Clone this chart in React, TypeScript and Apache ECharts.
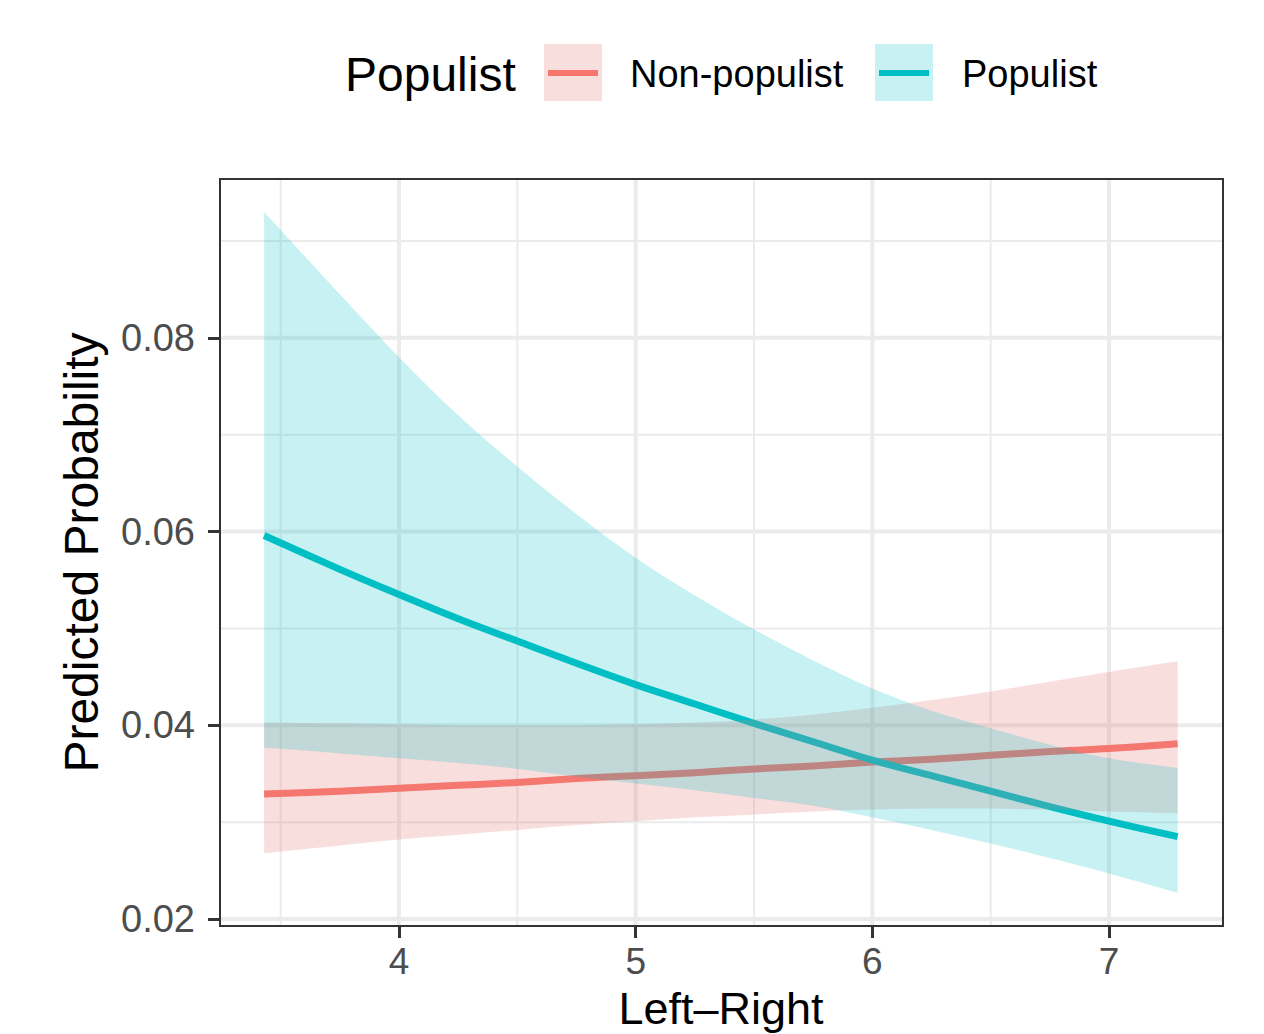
import React, { useEffect, useRef } from "react";
import * as echarts from "echarts";

// x positions (Left–Right scale)
const xs = [3.43, 3.75, 4.0, 4.25, 4.5, 4.75, 5.0, 5.25, 5.5, 5.75, 6.0, 6.25, 6.5, 6.75, 7.0, 7.29];

// Non-populist predicted probability and 95% CI
const npFit = [0.0329, 0.0332, 0.0335, 0.0338, 0.0341, 0.0345, 0.0348, 0.0351, 0.0355, 0.0358, 0.0362, 0.0365, 0.0369, 0.0373, 0.0376, 0.0381];
const npLow = [0.0268, 0.0276, 0.0282, 0.0287, 0.0292, 0.0297, 0.0301, 0.0305, 0.0308, 0.0311, 0.0313, 0.0314, 0.0314, 0.0313, 0.0311, 0.0309];
const npHigh = [0.0403, 0.0402, 0.0401, 0.04, 0.04, 0.04, 0.0401, 0.0403, 0.0406, 0.0411, 0.0418, 0.0426, 0.0435, 0.0445, 0.0455, 0.0466];

// Populist predicted probability and 95% CI
const pFit = [0.0596, 0.0561, 0.0535, 0.051, 0.0487, 0.0464, 0.0442, 0.0422, 0.0402, 0.0383, 0.0364, 0.0348, 0.0332, 0.0316, 0.0301, 0.0285];
const pLow = [0.0377, 0.0371, 0.0366, 0.0361, 0.0355, 0.0347, 0.034, 0.0333, 0.0325, 0.0317, 0.0305, 0.0292, 0.0278, 0.0263, 0.0247, 0.0227];
const pHigh = [0.093, 0.0845, 0.078, 0.072, 0.0667, 0.0618, 0.0573, 0.0534, 0.0499, 0.0467, 0.0438, 0.0415, 0.0397, 0.038, 0.0366, 0.0356];

// axis breaks
const xMajor = [4, 5, 6, 7];
const xMinor = [3.5, 4.5, 5.5, 6.5];
const yMajor = [0.02, 0.04, 0.06, 0.08];
const yMinor = [0.03, 0.05, 0.07, 0.09];

const X_MIN = 3.2436;
const X_MAX = 7.4816;
const Y_MIN = 0.01928;
const Y_MAX = 0.0964;

const FONT = "'Liberation Sans', Arial, Helvetica, sans-serif";
const RED = "#F8766D";
const CYAN = "#00BFC4";
const RED_FILL = "rgba(231,123,123,0.25)";
const CYAN_FILL = "rgba(0,191,196,0.22)";

function gridSeries() {
  const out: any[] = [];
  const mk = (data: number[][], w: number) => ({
    type: "line",
    data,
    showSymbol: false,
    silent: true,
    z: 1,
    lineStyle: { color: "#EBEBEB", width: w },
  });
  xMinor.forEach((v) => out.push(mk([[v, Y_MIN], [v, Y_MAX]], 2)));
  yMinor.forEach((v) => out.push(mk([[X_MIN, v], [X_MAX, v]], 2)));
  xMajor.forEach((v) => out.push(mk([[v, Y_MIN], [v, Y_MAX]], 4)));
  yMajor.forEach((v) => out.push(mk([[X_MIN, v], [X_MAX, v]], 4)));
  return out;
}

// Catmull-Rom spline through pixel points, as cubic bezier segments (no leading M)
function curveSegs(p: number[][]): string {
  let d = "";
  const n = p.length;
  for (let i = 0; i < n - 1; i++) {
    const p0 = p[Math.max(i - 1, 0)];
    const p1 = p[i];
    const p2 = p[i + 1];
    const p3 = p[Math.min(i + 2, n - 1)];
    const c1x = p1[0] + (p2[0] - p0[0]) / 6;
    const c1y = p1[1] + (p2[1] - p0[1]) / 6;
    const c2x = p2[0] - (p3[0] - p1[0]) / 6;
    const c2y = p2[1] - (p3[1] - p1[1]) / 6;
    d += ` C ${c1x} ${c1y} ${c2x} ${c2y} ${p2[0]} ${p2[1]}`;
  }
  return d;
}

function ribbon(low: number[], high: number[], fill: string, z: number) {
  return {
    type: "custom",
    z,
    silent: true,
    data: xs.map((x, i) => [x, low[i], high[i]]),
    renderItem: (params: any, api: any) => {
      if (params.dataIndex !== 0) return null;
      const up = xs.map((x, i) => api.coord([x, high[i]]));
      const lo = xs.map((x, i) => api.coord([x, low[i]])).reverse();
      const d =
        `M ${up[0][0]} ${up[0][1]}` +
        curveSegs(up) +
        ` L ${lo[0][0]} ${lo[0][1]}` +
        curveSegs(lo) +
        " Z";
      return { type: "path", shape: { pathData: d }, style: { fill, stroke: "none" } };
    },
  };
}

function fitLine(fit: number[], color: string, z: number) {
  return {
    type: "custom",
    z,
    silent: true,
    data: xs.map((x, i) => [x, fit[i]]),
    renderItem: (params: any, api: any) => {
      if (params.dataIndex !== 0) return null;
      const pts = xs.map((x, i) => api.coord([x, fit[i]]));
      const d = `M ${pts[0][0]} ${pts[0][1]}` + curveSegs(pts);
      return { type: "path", shape: { pathData: d }, style: { fill: "none", stroke: color, lineWidth: 7 } };
    },
  };
}

export default function App() {
  const ref = useRef<HTMLDivElement>(null);
  useEffect(() => {
    if (!ref.current) return;
    const chart = echarts.init(ref.current, null, { renderer: "svg" });
    chart.setOption({
      animation: false,
      backgroundColor: "#FFFFFF",
      textStyle: { fontFamily: FONT },
      grid: {
        left: 220,
        top: 179,
        width: 1003,
        height: 747,
        containLabel: false,
        outerBoundsMode: "none",
        show: true,
        borderColor: "#333333",
        borderWidth: 2,
        backgroundColor: "transparent",
        z: 10,
      },
      xAxis: {
        type: "value",
        min: X_MIN,
        max: X_MAX,
        axisLine: { show: false },
        splitLine: { show: false },
        axisTick: { show: true, customValues: xMajor, length: 12, lineStyle: { color: "#333333", width: 3 } },
        axisLabel: { customValues: xMajor, fontSize: 37, lineHeight: 37, color: "#4D4D4D", margin: 17, fontFamily: FONT },
      },
      yAxis: {
        type: "value",
        min: Y_MIN,
        max: Y_MAX,
        axisLine: { show: false },
        splitLine: { show: false },
        axisTick: { show: true, customValues: yMajor, length: 12, lineStyle: { color: "#333333", width: 3 } },
        axisLabel: {
          customValues: yMajor,
          fontSize: 38,
          color: "#4D4D4D",
          margin: 25,
          fontFamily: FONT,
          formatter: (v: number) => v.toFixed(2),
        },
        name: "Predicted Probability",
        nameLocation: "middle",
        nameRotate: 90,
        nameGap: 115,
        nameTextStyle: { fontSize: 48, color: "#000000", fontFamily: FONT },
      },
      graphic: [
        { type: "text", x: 721, y: 1008, style: { text: "Left–Right", fontSize: 45, lineHeight: 45, fontFamily: FONT, fill: "#000000", verticalAlign: "middle", align: "center" } },
        { type: "text", x: 345, y: 74, style: { text: "Populist", fontSize: 48, fontFamily: FONT, fill: "#000000", verticalAlign: "middle", align: "left" } },
        { type: "rect", shape: { x: 544, y: 44, width: 58, height: 57 }, style: { fill: RED_FILL } },
        { type: "line", shape: { x1: 548, y1: 73, x2: 598, y2: 73 }, style: { stroke: RED, lineWidth: 6 } },
        { type: "text", x: 630, y: 74, style: { text: "Non-populist", fontSize: 38, fontFamily: FONT, fill: "#000000", verticalAlign: "middle", align: "left" } },
        { type: "rect", shape: { x: 875, y: 44, width: 58, height: 57 }, style: { fill: CYAN_FILL } },
        { type: "line", shape: { x1: 879, y1: 73, x2: 929, y2: 73 }, style: { stroke: CYAN, lineWidth: 6 } },
        { type: "text", x: 962, y: 74, style: { text: "Populist", fontSize: 38, fontFamily: FONT, fill: "#000000", verticalAlign: "middle", align: "left" } },
      ],
      series: [
        ...gridSeries(),
        fitLine(npFit, RED, 3),
        fitLine(pFit, CYAN, 3),
        ribbon(npLow, npHigh, RED_FILL, 4),
        ribbon(pLow, pHigh, CYAN_FILL, 5),
      ],
    });
    return () => chart.dispose();
  }, []);
  return (
    <div
      ref={ref}
      style={{ position: "fixed", left: 0, top: 0, width: 1264, height: 1034, background: "#fff" }}
    />
  );
}
